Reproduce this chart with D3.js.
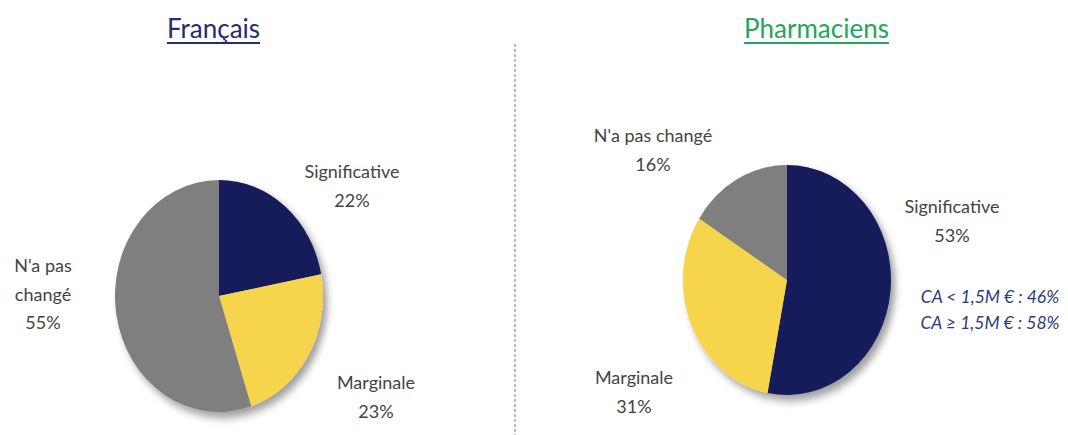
<!DOCTYPE html>
<html>
<head>
<meta charset="utf-8">
<script src="https://cdn.jsdelivr.net/npm/d3@7"></script>
<style>
  html, body { margin: 0; padding: 0; background: #fff; }
  svg { display: block; }
  text { font-family: Lato, "Open Sans", sans-serif; }
</style>
</head>
<body>
<svg id="chart" width="1068" height="435"></svg>
<script>
// Response categories and shares (%)
const categories = ["Significative", "Marginale", "N'a pas changé"];
const francaisValues = [22, 23, 55];
const pharmaciensValues = [53, 31, 16];
const sliceColors = ["#151d5a", "#f6d44b", "#7f7f7f"];
const titles = ["Français", "Pharmaciens"];
const caNotes = ["CA < 1,5M € : 46%", "CA ≥ 1,5M € : 58%"];

const svg = d3.select("#chart");
const W = 1068, H = 435;

const defs = svg.append("defs");
defs.append("filter").attr("id", "pieShadow")
  .attr("x", "-20%").attr("y", "-20%").attr("width", "150%").attr("height", "150%")
  .append("feDropShadow")
  .attr("dx", 4).attr("dy", 5).attr("stdDeviation", 3.5)
  .attr("flood-color", "#000").attr("flood-opacity", 0.38);

const pie = d3.pie().sort(null).value(d => d);
const R = 100;
const arc = d3.arc().innerRadius(0).outerRadius(R);

// Elliptical pies: circle drawn at radius R and stretched to rx/ry
function drawPie(values, cx, cy, rx, ry) {
  const g = svg.append("g")
    .attr("transform", `translate(${cx},${cy}) scale(${rx / R},${ry / R})`)
    .attr("filter", "url(#pieShadow)");
  g.selectAll("path")
    .data(pie(values))
    .join("path")
    .attr("d", arc)
    .attr("fill", (d, i) => sliceColors[i]);
}

drawPie(francaisValues, 219, 296, 104, 116);
drawPie(pharmaciensValues, 787, 280, 104, 115);

// Divider
svg.append("line")
  .attr("x1", 515).attr("x2", 515).attr("y1", 44).attr("y2", H)
  .attr("stroke", "#9a9a9a").attr("stroke-width", 1.3)
  .attr("stroke-dasharray", "3,2");

// Titles
const titleSpecs = [
  { text: titles[0], x: 213.5, color: "#272c6b" },
  { text: titles[1], x: 816.5, color: "#1fa65a" }
];
titleSpecs.forEach(t => {
  const txt = svg.append("text")
    .attr("x", t.x).attr("y", 38)
    .attr("text-anchor", "middle")
    .attr("font-size", 26)
    .attr("fill", t.color)
    .text(t.text);
  const bb = txt.node().getBBox();
  svg.append("line")
    .attr("x1", bb.x).attr("x2", bb.x + bb.width)
    .attr("y1", 43).attr("y2", 43)
    .attr("stroke", t.color).attr("stroke-width", 2);
});

// Slice labels
const labelColor = "#444";
function label(lines, x, y, anchor = "middle") {
  const t = svg.append("text")
    .attr("x", x).attr("y", y)
    .attr("text-anchor", anchor)
    .attr("font-size", 18)
    .attr("fill", labelColor);
  lines.forEach((l, i) => {
    t.append("tspan").attr("x", x).attr("dy", i === 0 ? 0 : 28.5).text(l);
  });
}
const pct = v => v + "%";

label([categories[0], pct(francaisValues[0])], 352, 178);
label(["N'a pas", "changé", pct(francaisValues[2])], 43, 272);
label([categories[1], pct(francaisValues[1])], 376, 389);

label([categories[2], pct(pharmaciensValues[2])], 653, 142);
label([categories[0], pct(pharmaciensValues[0])], 952, 213);
label([categories[1], pct(pharmaciensValues[1])], 634, 384);

const note = svg.append("text")
  .attr("font-size", 17.5)
  .attr("font-style", "italic")
  .attr("fill", "#2b3a7c")
  .attr("text-anchor", "middle");
caNotes.forEach((l, i) => {
  note.append("tspan").attr("x", 990).attr("y", 303 + i * 26).text(l);
});
</script>
</body>
</html>
